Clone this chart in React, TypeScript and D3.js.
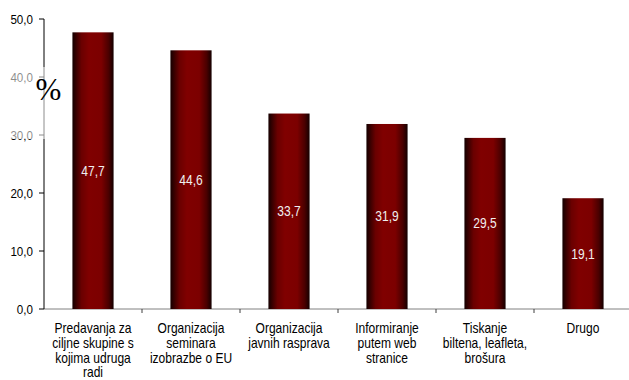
import React, { useEffect, useRef } from 'react';
import * as d3 from 'd3';

// podaci s grafikona
const categories: string[][] = [
    ['Predavanja za', 'ciljne skupine s', 'kojima udruga', 'radi'],
    ['Organizacija', 'seminara', 'izobrazbe o EU'],
    ['Organizacija', 'javnih rasprava'],
    ['Informiranje', 'putem web', 'stranice'],
    ['Tiskanje', 'biltena, leafleta,', 'brošura'],
    ['Drugo'],
];
const values: number[] = [47.7, 44.6, 33.7, 31.9, 29.5, 19.1];
const yTicks: number[] = [0, 10, 20, 30, 40, 50];

const fmt = (v: number) => v.toFixed(1).replace('.', ',');

const App: React.FC = () => {
    const svgRef = useRef<SVGSVGElement | null>(null);

    useEffect(() => {
        if (!svgRef.current) return;
        const width = 629;
        const svg = d3.select(svgRef.current);
        svg.selectAll('*').remove();

        const x0 = 44, x1 = 632, yTop = 19, yBottom = 309;
        const font = 'Arial, "Liberation Sans", sans-serif';
        const sx = 0.86; // tekst je malo uži nego viši

        const xScale = d3
            .scaleBand<number>()
            .domain(values.map((_, i) => i))
            .range([x0, x1])
            .paddingInner(0.58)
            .paddingOuter(0.29);
        const step = xScale.step();

        const yScale = d3.scaleLinear().domain([0, 50]).range([yBottom, yTop]);

        // gradijent stupaca
        const defs = svg.append('defs');
        const grad = defs
            .append('linearGradient')
            .attr('id', 'barGrad')
            .attr('x1', '0%')
            .attr('x2', '100%')
            .attr('y1', '0%')
            .attr('y2', '0%');
        [
            ['0%', '#140000'],
            ['22%', '#6a0000'],
            ['40%', '#800000'],
            ['70%', '#7c0000'],
            ['88%', '#4a0000'],
            ['100%', '#140000'],
        ].forEach(([o, c]) => grad.append('stop').attr('offset', o).attr('stop-color', c));

        // os x
        svg.append('line')
            .attr('x1', x0).attr('x2', width)
            .attr('y1', yBottom).attr('y2', yBottom)
            .attr('stroke', '#808080').attr('stroke-width', 1);
        d3.range(1, values.length).forEach((i) => {
            const tx = x0 + step * i;
            svg.append('line')
                .attr('x1', tx).attr('x2', tx)
                .attr('y1', yBottom).attr('y2', yBottom + 4)
                .attr('stroke', '#404040');
        });

        // os y
        svg.append('line')
            .attr('x1', x0).attr('x2', x0)
            .attr('y1', yTop).attr('y2', yBottom)
            .attr('stroke', '#000').attr('stroke-width', 1);
        yTicks.forEach((t) => {
            const ty = yScale(t);
            svg.append('line')
                .attr('x1', x0 - 5).attr('x2', x0)
                .attr('y1', ty).attr('y2', ty)
                .attr('stroke', '#000');
            svg.append('text')
                .attr('transform', `translate(33,${ty + 4.5}) scale(${sx},1)`)
                .attr('text-anchor', 'end')
                .attr('font-family', font)
                .attr('font-size', '13.5px')
                .attr('fill', '#000')
                .text(fmt(t));
        });

        // stupci
        svg.selectAll('.bar')
            .data(values)
            .enter()
            .append('rect')
            .attr('class', 'bar')
            .attr('x', (_, i) => xScale(i)!)
            .attr('y', (d) => yScale(d))
            .attr('width', xScale.bandwidth())
            .attr('height', (d) => yBottom - yScale(d))
            .attr('fill', 'url(#barGrad)');

        // vrijednosti u stupcima
        svg.selectAll('.label')
            .data(values)
            .enter()
            .append('text')
            .attr('class', 'label')
            .attr('transform', (d, i) =>
                `translate(${xScale(i)! + xScale.bandwidth() / 2},${(yScale(d) + yBottom) / 2 + 5}) scale(${sx},1)`)
            .attr('text-anchor', 'middle')
            .attr('font-family', font)
            .attr('font-size', '14px')
            .attr('fill', '#f0f0f0')
            .text((d) => fmt(d));

        // nazivi kategorija
        categories.forEach((lines, i) => {
            const cx = xScale(i)! + xScale.bandwidth() / 2;
            const t = svg.append('text')
                .attr('transform', `translate(${cx},0) scale(${sx},1)`)
                .attr('text-anchor', 'middle')
                .attr('font-family', font)
                .attr('font-size', '14px')
                .attr('fill', '#000');
            lines.forEach((ln, j) => {
                t.append('tspan')
                    .attr('x', 0)
                    .attr('y', 333 + j * 14.8)
                    .text(ln);
            });
        });

        // poluprozirni okvir oznake osi
        svg.append('rect')
            .attr('x', 0).attr('y', 67)
            .attr('width', 62).attr('height', 72)
            .attr('fill', '#fff').attr('fill-opacity', 0.55);

        svg.append('text')
            .attr('x', 48.5)
            .attr('y', 100)
            .attr('text-anchor', 'middle')
            .attr('font-family', '"Liberation Serif", "Times New Roman", serif')
            .attr('font-size', '31px')
            .attr('fill', '#000')
            .text('%');
    }, []);

    return (
        <svg
            ref={svgRef}
            width={629}
            height={380}
            style={{ position: 'absolute', left: 0, top: 0, background: '#fff' }}
        ></svg>
    );
};

export default App;
